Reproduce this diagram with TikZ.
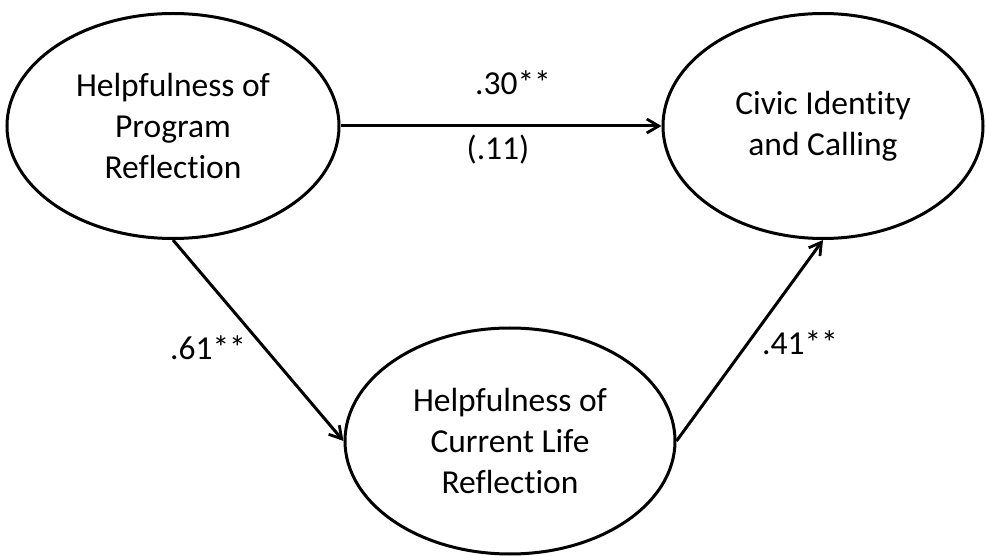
\documentclass[tikz,border=0pt]{standalone}
\usepackage{fontspec}
\setmainfont{Carlito}[Ligatures=NoCommon]
\usetikzlibrary{shapes.geometric,arrows.meta}
\begin{document}
\begin{tikzpicture}[x=1pt,y=-1pt,
  latent/.style={ellipse,draw,line width=3pt,inner sep=0pt,align=center,
    font=\fontsize{33.5}{41}\selectfont},
  path/.style={line width=3pt,-{Straight Barb[length=12pt,width=14pt,line width=2.8pt]}},
  coef/.style={font=\fontsize{33.5}{41}\selectfont,inner sep=0pt}]
\useasboundingbox (0,0) rectangle (986,556);
\node[latent,minimum width=332pt,minimum height=225pt] (L) at (173,126)
  {Helpfulness of\\Program\\Reflection};
\node[latent,minimum width=320pt,minimum height=225pt] (R) at (823,126)
  {Civic Identity\\and Calling};
\node[latent,minimum width=330pt,minimum height=226pt] (B) at (510,441)
  {Helpfulness of\\Current Life\\Reflection};
\draw[path] (L.east) -- (R.west);
\draw[path] (L.south) -- (B.west);
\draw[path] (B.east) -- (R.south);
\node[coef] (c1) at (513,83) {.30**};
\node[coef] (c2) at (498,150) {(.11)};
\node[coef] (c3) at (208,348) {.61**};
\node[coef] (c4) at (800,343) {.41**};
\end{tikzpicture}
\end{document}
